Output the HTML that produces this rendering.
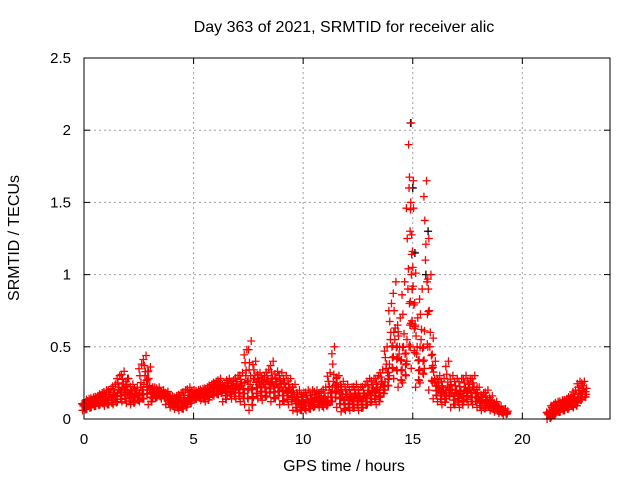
<!DOCTYPE html>
<html><head><meta charset="utf-8">
<style>
html,body{margin:0;padding:0;background:#fff;}
svg{display:block;font-family:"Liberation Sans",sans-serif;}
</style></head>
<body>
<svg id="chart" width="640" height="480" xmlns="http://www.w3.org/2000/svg">
<text x="344" y="32" text-anchor="middle" font-size="16">Day 363 of 2021, SRMTID for receiver alic</text>
<text x="344" y="471" text-anchor="middle" font-size="16">GPS time / hours</text>
<text transform="translate(19,238) rotate(-90)" text-anchor="middle" font-size="16">SRMTID / TECUs</text>
<g id="grid"></g>
<g id="ticks"></g>
<g id="marks"></g>
<rect x="84" y="58" width="526" height="361" fill="none" stroke="#000" stroke-width="1"/>
</svg>
<script>
const xTicks=[0,5,10,15,20];
const yTicks=[0,0.5,1,1.5,2,2.5];
const yTickLabels=["0","0.5","1","1.5","2","2.5"];
const times=[0,0.2,0.4,0.6,0.8,1,1.2,1.4,1.6,1.8,2,2.2,2.4,2.6,2.8,3,3.2,3.4,3.6,3.8,4,4.2,4.4,4.6,4.8,5,5.2,5.4,5.6,5.8,6,6.2,6.4,6.6,6.8,7,7.2,7.4,7.6,7.8,8,8.2,8.4,8.6,8.8,9,9.2,9.4,9.6,9.8,10,10.2,10.4,10.6,10.8,11,11.2,11.4,11.6,11.8,12,12.2,12.4,12.6,12.8,13,13.2,13.4,13.6,13.8,14,14.2,14.4,14.6,14.8,14.9,15,15.2,15.4,15.6,15.8,16,16.2,16.4,16.6,16.8,17,17.2,17.4,17.6,17.8,18,18.2,18.4,18.6,18.8,19,19.2,21.2,21.4,21.6,21.8,22,22.2,22.4,22.6,22.8];
const lowVals=[.06,.07,.08,.09,.10,.09,.10,.10,.12,.12,.11,.10,.12,.12,.14,.10,.14,.15,.14,.10,.08,.07,.06,.07,.10,.13,.14,.13,.12,.16,.16,.17,.12,.16,.14,.14,.12,.10,.06,.15,.14,.13,.16,.12,.14,.10,.12,.10,.06,.05,.06,.06,.07,.09,.08,.08,.10,.12,.08,.05,.06,.06,.08,.06,.08,.10,.12,.10,.16,.20,.30,.28,.22,.25,.40,.50,.35,.22,.25,.35,.20,.14,.12,.10,.14,.08,.10,.08,.12,.10,.10,.08,.06,.08,.06,.05,.04,.03,.00,.02,.04,.05,.06,.08,.08,.12,.14];
const midVals=[.09,.11,.12,.13,.14,.14,.16,.17,.20,.22,.18,.16,.17,.22,.30,.20,.18,.18,.17,.15,.12,.12,.12,.13,.15,.17,.17,.18,.18,.20,.22,.22,.20,.22,.22,.22,.23,.30,.24,.28,.24,.24,.26,.25,.24,.22,.20,.20,.15,.11,.12,.12,.13,.14,.13,.14,.20,.26,.20,.15,.15,.14,.16,.14,.16,.18,.20,.20,.24,.35,.55,.55,.45,.50,.90,1.30,.90,.45,.55,1.10,.50,.25,.20,.18,.22,.18,.18,.17,.20,.20,.20,.14,.12,.12,.10,.08,.06,.05,.03,.06,.08,.09,.10,.12,.14,.18,.20];
const highVals=[.11,.14,.15,.16,.18,.20,.21,.24,.30,.33,.28,.24,.22,.38,.44,.36,.22,.22,.20,.19,.16,.16,.18,.20,.22,.20,.20,.21,.22,.24,.26,.28,.25,.28,.27,.30,.32,.48,.54,.40,.32,.30,.34,.40,.33,.32,.30,.28,.24,.20,.18,.20,.20,.20,.19,.22,.32,.50,.30,.26,.24,.22,.24,.22,.24,.28,.28,.30,.34,.50,.80,.95,.70,.95,1.60,2.05,1.65,.70,.90,1.65,1.00,.40,.30,.28,.40,.30,.28,.28,.30,.28,.30,.22,.18,.20,.16,.12,.09,.07,.05,.10,.12,.13,.14,.16,.20,.26,.26];
const blackTimes=[14.9,15.0,15.1,15.6,15.7,2.0];
const blackVals=[2.05,1.6,1.15,1.0,1.3,0.28];

const X0=84,X1=610,Y0=419,Y1=58;
function xs(t){return X0+(t/24)*(X1-X0);}
function ys(v){return Y0-(v/2.5)*(Y0-Y1);}
const NS="http://www.w3.org/2000/svg";
const grid=document.getElementById('grid'),ticks=document.getElementById('ticks'),marks=document.getElementById('marks');
function line(p,x1,y1,x2,y2,st,dash){const l=document.createElementNS(NS,'line');l.setAttribute('x1',x1);l.setAttribute('y1',y1);l.setAttribute('x2',x2);l.setAttribute('y2',y2);l.setAttribute('stroke',st);if(dash)l.setAttribute('stroke-dasharray',dash);p.appendChild(l);return l;}
function text(p,x,y,s,anchor){const t=document.createElementNS(NS,'text');t.setAttribute('x',x);t.setAttribute('y',y);t.setAttribute('font-size','15');t.setAttribute('text-anchor',anchor);t.textContent=s;p.appendChild(t);return t;}
xTicks.forEach(v=>{const x=xs(v);
 if(v>0){const g=line(grid,x,Y0,x,Y1,'#a0a0a0','2,3');}
 const a=line(ticks,x,Y0,x,Y0-6,'#000');
 const b=line(ticks,x,Y1,x,Y1+6,'#000');
 const t=text(ticks,x,444,String(v),'middle');});
yTicks.forEach((v,i)=>{const y=ys(v);
 if(v>0&&v<2.5){const g=line(grid,X0,y,X1,y,'#a0a0a0','2,3');}
 const a=line(ticks,X0,y,X0+6,y,'#000');
 const b=line(ticks,X1,y,X1-6,y,'#000');
 const t=text(ticks,71,y+5,yTickLabels[i],'end');});
function plus(x,y,c){const p=document.createElementNS(NS,'path');p.setAttribute('d','M'+(x-4)+' '+y+'h8M'+x+' '+(y-4)+'v8');p.setAttribute('stroke',c);p.setAttribute('stroke-width','1.3');p.setAttribute('fill','none');
 
 
 marks.appendChild(p);}
const offs=[-0.07,0.03,-0.02,0.07,-0.05,0.05,0,0.09,-0.09];
const fr=[0,1,0.5,0.25,0.75,0.4,0.6,0.1,0.9];
blackTimes.forEach((t,i)=>plus(xs(t),ys(blackVals[i]),'#000'));
times.forEach((t,i)=>{
 const lo=lowVals[i],md=midVals[i],hi=highVals[i];
 fr.forEach((f,k)=>{const v=f<=0.5?lo+(md-lo)*f*2:md+(hi-md)*(f-0.5)*2;plus(xs(t+offs[k]),ys(v),'#ff0000');});
 [0.15,0.35,0.55,0.8].forEach((f,k)=>{plus(xs(t+0.1+offs[k]*0.5),ys(lo+(md-lo)*f*1.5),'#ff0000');});
});
</script>
</body></html>
